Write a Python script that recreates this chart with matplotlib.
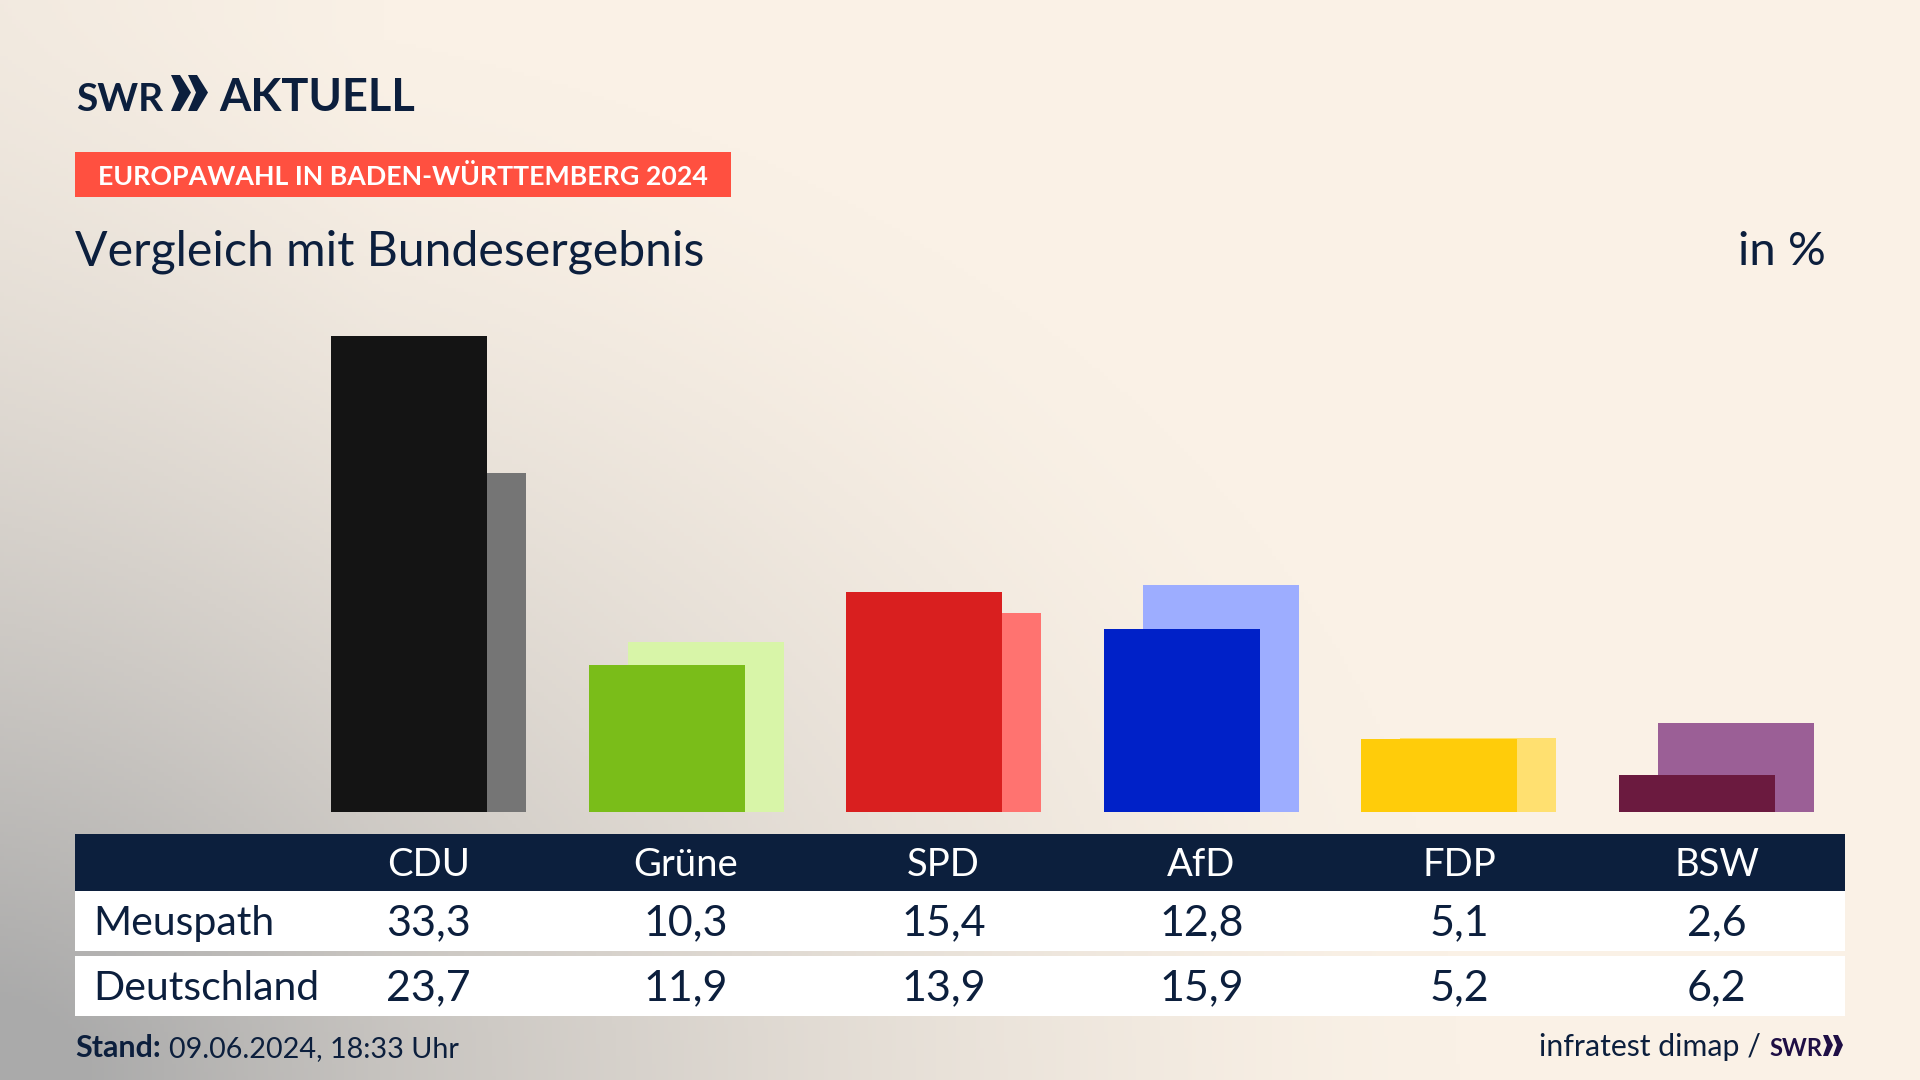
import numpy as np
import matplotlib.pyplot as plt

# Configure the font and the colours
plt.rcParams['font.family'] = ['Lato', 'Noto Sans', 'DejaVu Sans']
NAVY = '#0c1f3d'
CREAM = np.array([250, 241, 230]) / 255
GREY = np.array([170, 170, 170]) / 255

# Election results per party
parties = ['CDU', 'Grüne', 'SPD', 'AfD', 'FDP', 'BSW']
local = [33.3, 10.3, 15.4, 12.8, 5.1, 2.6]
national = [23.7, 11.9, 13.9, 15.9, 5.2, 6.2]
dark_colors = ['#141414', '#7abd19', '#d91f1f', '#0021c8', '#ffcc0a', '#6b1a3f']
light_colors = ['#757575', '#d8f5a8', '#ff7370', '#9dadff', '#ffe070', '#9b5f96']

# Initialize the page, one axes in pixels over the whole figure
fig, page = plt.subplots(figsize=(19.2, 10.8), dpi=100)
page.set_position([0, 0, 1, 1])
page.set_xlim(0, 1920)
page.set_ylim(1080, 0)
page.axis('off')

# Grey glow out of the lower left corner, a little shade along the left edge
xx, yy = np.meshgrid(np.linspace(0, 1, 480), np.linspace(0, 1, 270))
glow = np.clip(1 - np.hypot(xx / 0.76, (1 - yy) / 1.0), 0, 1) ** 1.45
edge = 0.1 * np.clip(1 - xx / 0.2, 0, 1)
glow = np.clip(glow + edge, 0, 1)[..., None]
page.imshow(CREAM * (1 - glow) + GREY * glow, extent=(0, 1920, 1080, 0), aspect='auto', zorder=0)

# Logo
page.text(76, 111, 'SWR', fontsize=28, fontweight='bold', color=NAVY, va='baseline')
for x0 in (171, 188):
    page.fill([x0, x0 + 9, x0 + 20, x0 + 9, x0, x0 + 8], [75, 75, 92.5, 111, 111, 92.5], color=NAVY, lw=0)
page.text(219, 111, 'AKTUELL', fontsize=32.5, fontweight='bold', color=NAVY, va='baseline')

# Red label and headline
page.fill([75, 731, 731, 75], [152, 152, 197, 197], color='#ff5040', lw=0)
page.text(403, 185, 'EUROPAWAHL IN BADEN-WÜRTTEMBERG 2024', fontsize=19.3, fontweight='bold',
          color='white', ha='center', va='baseline')
page.text(75, 265, 'Vergleich mit Bundesergebnis', fontsize=34.7, color=NAVY, va='baseline')
page.text(1826, 265, 'in %', fontsize=34, color=NAVY, ha='right', va='baseline')

# Table bands
page.fill([75, 1845, 1845, 75], [834, 834, 891, 891], color=NAVY, lw=0)
page.fill([75, 1845, 1845, 75], [891, 891, 951, 951], color='white', lw=0)
page.fill([75, 1845, 1845, 75], [956, 956, 1016, 1016], color='white', lw=0)

# Table texts, columns sit under the bar groups
page.text(93, 935, 'Meuspath', fontsize=29.5, color=NAVY, va='baseline')
page.text(93, 1000, 'Deutschland', fontsize=29.5, color=NAVY, va='baseline')
for i, party in enumerate(parties):
    x = 428.5 + 257.6 * i
    page.text(x, 876, party, fontsize=27.5, color='white', ha='center', va='baseline')
    page.text(x, 935, f'{local[i]:.1f}'.replace('.', ','), fontsize=31, color=NAVY, ha='center', va='baseline')
    page.text(x, 1000, f'{national[i]:.1f}'.replace('.', ','), fontsize=31, color=NAVY, ha='center', va='baseline')

# Footer
page.text(75, 1057, 'Stand:', fontsize=22, fontweight='bold', color=NAVY, va='baseline')
page.text(169, 1057, '09.06.2024, 18:33 Uhr', fontsize=20.7, color=NAVY, va='baseline')
page.text(1761, 1056, 'infratest dimap /', fontsize=21.8, color=NAVY, ha='right', va='baseline')
page.text(1769, 1056, 'SWR', fontsize=17, fontweight='bold', color='#1f0f45', va='baseline')
for x0 in (1823, 1833):
    page.fill([x0, x0 + 5, x0 + 10, x0 + 5, x0, x0 + 4], [1035, 1035, 1045, 1056, 1056, 1045], color='#1f0f45', lw=0)

# The bars get their own axes
ax = fig.add_axes([75 / 1920, (1080 - 812) / 1080, 1770 / 1920, 512 / 1080])
ax.patch.set_alpha(0)
ax.axis('off')
ax.set_xlim(-1.372, 5.499)
ax.set_ylim(0, 35.8)
positions = np.arange(len(parties))
ax.bar(positions + 0.0757, national, width=0.6056, color=light_colors)  # Bundesergebnis behind
ax.bar(positions - 0.0757, local, width=0.6056, color=dark_colors)

fig.savefig('out.png', dpi=100)
